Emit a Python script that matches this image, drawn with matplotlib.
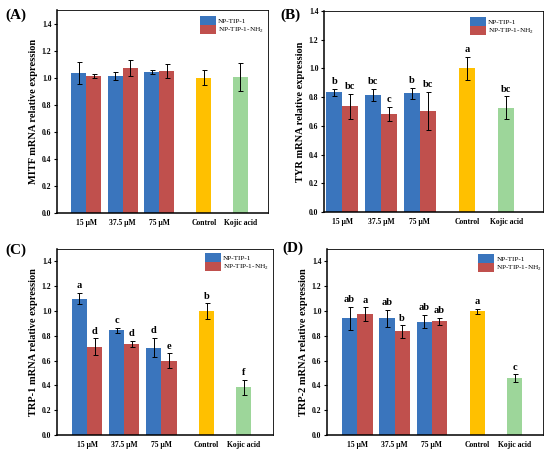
import matplotlib
matplotlib.use("Agg")
import matplotlib.pyplot as plt
import numpy as np
from matplotlib.patches import Patch

plt.rcParams['font.family'] = ['Liberation Serif', 'DejaVu Serif']
plt.rcParams['mathtext.fontset'] = 'custom'
plt.rcParams['mathtext.rm'] = 'Liberation Serif'

categories = ["15 μM", "37.5 μM", "75 μM", "Control", "Kojic acid"]
series_names = ["NP-TIP-1", "NP-TIP-1-NH$_2$"]

# MITF
mitf_blue = [1.035, 1.015, 1.045]
mitf_blue_err = [0.083, 0.03, 0.015]
mitf_red = [1.012, 1.072, 1.047]
mitf_red_err = [0.015, 0.06, 0.053]
mitf_ctrl = [1.0, 1.005]
mitf_ctrl_err = [0.057, 0.106]

# TYR
tyr_blue = [0.834, 0.813, 0.827]
tyr_blue_err = [0.023, 0.043, 0.04]
tyr_red = [0.736, 0.682, 0.703]
tyr_red_err = [0.086, 0.05, 0.132]
tyr_ctrl = [1.0, 0.727]
tyr_ctrl_err = [0.08, 0.078]
tyr_letters_blue = ["b", "bc", "b"]
tyr_letters_red = ["bc", "c", "bc"]
tyr_letters_ctrl = ["a", "bc"]

# TRP-1
trp1_blue = [1.10, 0.843, 0.705]
trp1_blue_err = [0.043, 0.022, 0.078]
trp1_red = [0.713, 0.735, 0.60]
trp1_red_err = [0.067, 0.027, 0.059]
trp1_ctrl = [0.999, 0.385]
trp1_ctrl_err = [0.062, 0.059]
trp1_letters_blue = ["a", "c", "d"]
trp1_letters_red = ["d", "d", "e"]
trp1_letters_ctrl = ["b", "f"]

# TRP-2
trp2_blue = [0.94, 0.94, 0.915]
trp2_blue_err = [0.095, 0.07, 0.051]
trp2_red = [0.976, 0.835, 0.916]
trp2_red_err = [0.054, 0.049, 0.03]
trp2_ctrl = [0.998, 0.458]
trp2_ctrl_err = [0.022, 0.03]
trp2_letters_blue = ["ab", "ab", "ab"]
trp2_letters_red = ["a", "b", "ab"]
trp2_letters_ctrl = ["a", "c"]

blue = '#3a75bd'
red = '#c0504d'
yellow = '#ffc000'
green = '#9dd69a'

fig = plt.figure(figsize=(5.5, 4.51), dpi=100)
W, H = 550, 451

def ax_at(l, r, t, b):
    return fig.add_axes([l / W, 1 - b / H, (r - l) / W, (b - t) / H])

panels = [
    dict(rect=(57, 268, 10, 213), ylim=1.5, xlim=(-0.8, 4.975),
         label="(A)", lab_xy=(5, 15), ylabel="MITF mRNA relative expression",
         blue=mitf_blue, be=mitf_blue_err, red=mitf_red, re=mitf_red_err,
         ctrl=mitf_ctrl, ce=mitf_ctrl_err, letters=None, leg=(0.678, 0.97)),
    dict(rect=(324, 543, 11, 212), ylim=1.4, xlim=(-0.47, 5.17),
         label="(B)", lab_xy=(280, 15), ylabel="TYR mRNA relative expression",
         blue=tyr_blue, be=tyr_blue_err, red=tyr_red, re=tyr_red_err,
         ctrl=tyr_ctrl, ce=tyr_ctrl_err,
         letters=(tyr_letters_blue, tyr_letters_red, tyr_letters_ctrl), leg=(0.667, 0.97)),
    dict(rect=(57, 273, 249, 435), ylim=1.5, xlim=(-0.81, 5.01),
         label="(C)", lab_xy=(5, 250), ylabel="TRP-1 mRNA relative expression",
         blue=trp1_blue, be=trp1_blue_err, red=trp1_red, re=trp1_red_err,
         ctrl=trp1_ctrl, ce=trp1_ctrl_err,
         letters=(trp1_letters_blue, trp1_letters_red, trp1_letters_ctrl), leg=(0.685, 0.978)),
    dict(rect=(327, 543, 249, 435), ylim=1.5, xlim=(-0.81, 4.98),
         label="(D)", lab_xy=(282, 248), ylabel="TRP-2 mRNA relative expression",
         blue=trp2_blue, be=trp2_blue_err, red=trp2_red, re=trp2_red_err,
         ctrl=trp2_ctrl, ce=trp2_ctrl_err,
         letters=(trp2_letters_blue, trp2_letters_red, trp2_letters_ctrl), leg=(0.70, 0.973)),
]

bw = 0.41
grp = np.arange(3)
single = np.array([3.22, 4.22])
ekw = dict(ecolor='black', elinewidth=0.7, capsize=1.8, capthick=0.7)

for p in panels:
    ax = ax_at(*p['rect'])
    xb = grp - bw / 2
    xr = grp + bw / 2
    ax.bar(xb, p['blue'], bw, yerr=p['be'], color=blue, error_kw=ekw, align='center')
    ax.bar(xr, p['red'], bw, yerr=p['re'], color=red, error_kw=ekw, align='center')
    ax.bar(single, p['ctrl'], bw, yerr=p['ce'], color=[yellow, green], error_kw=ekw)
    if p['letters'] is not None:
        lb, lr, lc = p['letters']
        for xs, vals, errs, labs in [(xb, p['blue'], p['be'], lb),
                                     (xr, p['red'], p['re'], lr),
                                     (single, p['ctrl'], p['ce'], lc)]:
            for x, v, e, t in zip(xs, vals, errs, labs):
                ax.annotate(t, (x, v + e), xytext=(0, 2), textcoords='offset points',
                            ha='center', va='bottom', fontsize=7.5, fontweight='bold')
    ax.set_ylim(0, p['ylim'])
    ax.set_xlim(*p['xlim'])
    ax.set_yticks(np.arange(0, 1.41, 0.2))
    ax.set_yticklabels([f"{v:.1f}" for v in np.arange(0, 1.41, 0.2)])
    ax.set_xticks(list(grp) + list(single))
    ax.set_xticklabels(categories)
    ax.tick_params(axis='x', length=0, pad=4, labelsize=5.5)
    ax.tick_params(axis='y', length=2.5, width=0.8, pad=1.5, labelsize=5.5)
    for lab in ax.get_xticklabels() + ax.get_yticklabels():
        lab.set_fontweight('bold')
    ax.set_ylabel(p['ylabel'], fontsize=7.5, fontweight='bold', labelpad=3)
    for s in ['left', 'bottom']:
        ax.spines[s].set_linewidth(1.1)
    for s in ['top', 'right']:
        ax.spines[s].set_linewidth(0.6)
    handles = [Patch(facecolor=blue), Patch(facecolor=red)]
    ax.legend(handles, series_names, loc='upper left', bbox_to_anchor=p['leg'],
              frameon=False, fontsize=5.2, handlelength=2.2, handleheight=1.45,
              labelspacing=0.1, borderpad=0, borderaxespad=0, handletextpad=0.3)
    lx, ly = p['lab_xy']
    fig.text(lx / W, 1 - ly / H, p['label'], fontsize=11, fontweight='bold',
             ha='left', va='center')

fig.savefig("out.png", dpi=100)
